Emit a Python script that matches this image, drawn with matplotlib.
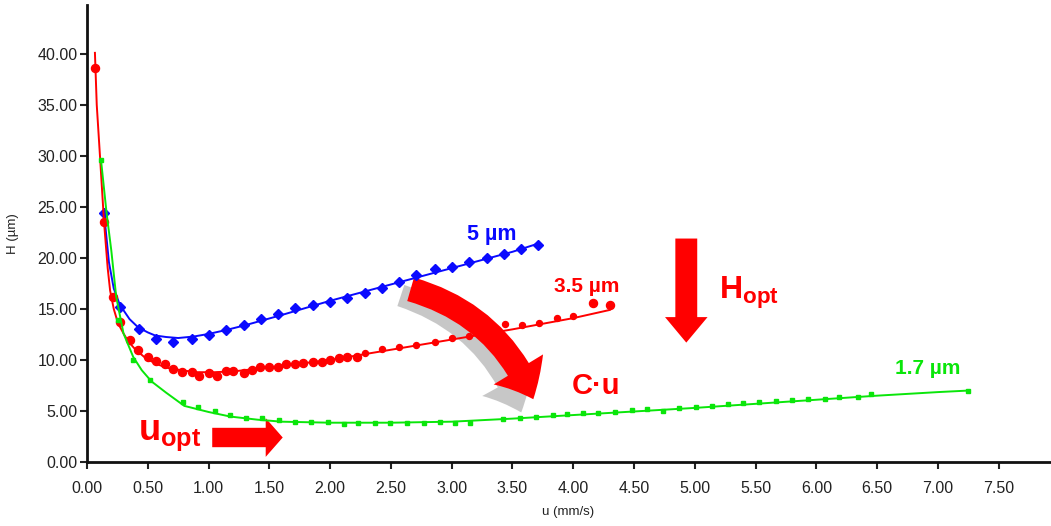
import numpy as np
import matplotlib
matplotlib.use("Agg")
import matplotlib.pyplot as plt
from matplotlib.patches import FancyArrowPatch, FancyArrow

plt.rcParams['font.family'] = ['Liberation Sans', 'DejaVu Sans']
plt.rcParams['mathtext.fontset'] = 'custom'
plt.rcParams['mathtext.rm'] = 'Liberation Sans'
plt.rcParams['mathtext.bf'] = 'Liberation Sans:bold'

# 5 um particles (blue diamonds)
u_5 = [0.14, 0.27, 0.43, 0.57, 0.71, 0.86, 1.00, 1.14, 1.29, 1.43, 1.57, 1.71, 1.86,
       2.00, 2.14, 2.29, 2.43, 2.57, 2.71, 2.86, 3.00, 3.14, 3.29, 3.43, 3.57, 3.71]
h_5 = [24.4, 15.2, 13.0, 12.05, 11.8, 12.1, 12.45, 12.9, 13.4, 14.0, 14.5, 15.1, 15.4,
       15.7, 16.1, 16.6, 17.1, 17.6, 18.3, 18.9, 19.1, 19.6, 20.0, 20.4, 20.9, 21.3]
fit_u_5 = [0.14, 0.18, 0.22, 0.27, 0.35, 0.42, 0.50, 0.56, 0.65, 0.75, 0.88, 1.00,
           1.15, 1.30, 1.60, 2.00, 2.50, 3.00, 3.50, 3.71]
fit_h_5 = [24.4, 19.6, 17.0, 15.4, 14.0, 13.2, 12.7, 12.4, 12.25, 12.15, 12.3, 12.55,
           12.95, 13.4, 14.4, 15.8, 17.4, 19.0, 20.6, 21.4]

# 3.5 um particles (red circles)
u_35 = [0.066, 0.14, 0.21, 0.27, 0.35, 0.42, 0.50, 0.57, 0.64, 0.71, 0.78, 0.86, 0.92,
        1.00, 1.07, 1.14, 1.20, 1.29, 1.36, 1.42, 1.50, 1.57, 1.64, 1.71, 1.78, 1.86,
        1.93, 2.00, 2.07, 2.14, 2.22, 2.29, 2.43, 2.57, 2.71, 2.86, 3.00, 3.14, 3.44,
        3.58, 3.72, 3.87, 4.00, 4.16, 4.30]
h_35 = [38.6, 23.5, 16.2, 13.7, 12.0, 11.0, 10.3, 9.9, 9.6, 9.1, 8.85, 8.85, 8.4,
        8.7, 8.4, 8.9, 8.9, 8.7, 9.0, 9.3, 9.3, 9.3, 9.6, 9.6, 9.7, 9.8,
        9.8, 10.0, 10.2, 10.3, 10.3, 10.7, 11.1, 11.3, 11.5, 11.8, 12.2, 12.3, 13.5,
        13.4, 13.6, 14.1, 14.3, 15.6, 15.4]
fit_u_35 = [0.065, 0.08, 0.107, 0.14, 0.17, 0.19, 0.22, 0.255, 0.30, 0.34, 0.40, 0.48,
            0.57, 0.67, 0.80, 0.91, 1.05, 1.22, 1.52, 2.00, 2.50, 3.00, 3.50, 4.00, 4.30]
fit_h_35 = [40.1, 35.0, 29.9, 23.5, 19.0, 16.8, 15.0, 13.6, 12.6, 11.8, 11.0, 10.2,
            9.6, 9.2, 8.95, 8.8, 8.8, 8.9, 9.3, 10.0, 11.0, 12.0, 13.0, 14.1, 14.9]

# 1.7 um particles (green squares)
u_17 = [0.115, 0.255, 0.38, 0.52, 0.79, 0.91, 1.05, 1.18, 1.31, 1.44, 1.58, 1.71, 1.84,
        1.98, 2.11, 2.23, 2.37, 2.49, 2.63, 2.77, 2.90, 3.03, 3.15, 3.42, 3.56, 3.69,
        3.83, 3.95, 4.08, 4.20, 4.34, 4.48, 4.61, 4.74, 4.87, 5.01, 5.14, 5.27, 5.40,
        5.53, 5.67, 5.80, 5.93, 6.07, 6.19, 6.34, 6.45, 7.25]
h_17 = [29.6, 13.9, 10.0, 8.0, 5.9, 5.4, 5.0, 4.6, 4.3, 4.3, 4.1, 3.9, 3.9,
        3.9, 3.7, 3.8, 3.8, 3.8, 3.8, 3.8, 3.9, 3.8, 3.8, 4.2, 4.3, 4.4,
        4.6, 4.7, 4.8, 4.8, 4.9, 5.05, 5.2, 5.0, 5.3, 5.4, 5.5, 5.7, 5.8,
        5.85, 6.0, 6.1, 6.2, 6.2, 6.4, 6.4, 6.7, 6.96]
fit_u_17 = [0.115, 0.16, 0.20, 0.24, 0.30, 0.38, 0.45, 0.53, 0.65, 0.80, 1.00, 1.18,
            1.40, 1.60, 2.00, 2.50, 3.00, 3.50, 4.00, 4.50, 5.00, 5.50, 6.00, 6.50,
            7.00, 7.25]
fit_h_17 = [29.6, 24.5, 20.7, 16.2, 12.6, 10.3, 9.0, 7.9, 6.8, 5.5, 4.9, 4.45,
            4.15, 3.95, 3.85, 3.85, 3.95, 4.25, 4.6, 4.95, 5.3, 5.7, 6.1, 6.5,
            6.85, 7.0]

x_ticks = np.arange(0, 7.51, 0.5)
y_ticks = np.arange(0, 40.01, 5)

blue = '#0a0aff'
red = '#ff0000'
green = '#0ae60a'

fig = plt.figure(figsize=(10.51, 5.26), dpi=100)
ax = fig.add_axes([0.0828, 0.1217, 0.916, 0.869])

ax.plot(fit_u_5, fit_h_5, color=blue, lw=1.4)
ax.plot(u_5, h_5, 'D', color=blue, ms=5.2, mec=blue)
ax.plot(fit_u_35, fit_h_35, color=red, lw=1.4)
# the red points get smaller on the right part of the curve
u35 = np.array(u_35)
h35 = np.array(h_35)
big = (u35 < 2.25) | (u35 > 4.1)
ax.plot(u35[big], h35[big], 'o', color=red, ms=5.8, mec=red)
ax.plot(u35[~big], h35[~big], 'o', color=red, ms=4.3, mec=red)
ax.plot(fit_u_17, fit_h_17, color=green, lw=1.4)
ax.plot(u_17, h_17, 's', color=green, ms=3.4, mec=green)

ax.set_xlim(0, 7.92)
ax.set_ylim(0, 44.8)
ax.set_xticks(x_ticks)
ax.set_xticklabels(['%.2f' % v for v in x_ticks])
ax.set_yticks(y_ticks)
ax.set_yticklabels(['%.2f' % v for v in y_ticks])
ax.tick_params(labelsize=11.5, length=5, width=1.5, color='#222222', labelcolor='#222222')
ax.tick_params(axis='x', pad=9)
ax.tick_params(axis='y', pad=2)
for s in ['top', 'right']:
    ax.spines[s].set_visible(False)
for s in ['left', 'bottom']:
    ax.spines[s].set_linewidth(2)
    ax.spines[s].set_color('#111111')

ax.set_xlabel('u (mm/s)', fontsize=9.5, color='#222222', labelpad=7)
ax.set_ylabel('H (µm)', fontsize=9.5, color='#222222', labelpad=13)

# labels of the curves
ax.text(3.33, 22.3, '5 µm', color=blue, fontsize=15.5, fontweight='bold', ha='center', va='center')
ax.text(4.11, 17.2, '3.5 µm', color=red, fontsize=15, fontweight='bold', ha='center', va='center')
ax.text(6.92, 9.2, '1.7 µm', color=green, fontsize=15, fontweight='bold', ha='center', va='center')

# annotations
ax.text(0.42, 2.6, r'$\mathbf{u}_{\mathbf{opt}}$', color=red, fontsize=26, ha='left', va='center')
ax.add_patch(FancyArrow(1.03, 2.4, 0.58, 0, width=1.9, head_width=3.8, head_length=0.14,
                        length_includes_head=True, color=red, lw=0))
ax.text(5.2, 16.6, r'$\mathbf{H}_{\mathbf{opt}}$', color=red, fontsize=23, ha='left', va='center')
ax.add_patch(FancyArrow(4.93, 21.9, 0, -10.2, width=0.18, head_width=0.35, head_length=2.5,
                        length_includes_head=True, color=red, lw=0))
ax.text(4.19, 7.4, 'C·u', color=red, fontsize=21, fontweight='bold', ha='center', va='center')

shadow = FancyArrowPatch((2.56, 16.4), (3.58, 4.6), connectionstyle='arc3,rad=-0.25',
                         arrowstyle='simple,head_width=26,head_length=15,tail_width=10',
                         color='#9a9a9a', alpha=0.55, lw=0, mutation_scale=1.6)
ax.add_patch(shadow)
cu_arrow = FancyArrowPatch((2.64, 17.0), (3.68, 5.9), connectionstyle='arc3,rad=-0.25',
                           arrowstyle='simple,head_width=26,head_length=15,tail_width=11',
                           color=red, lw=0, mutation_scale=1.6)
ax.add_patch(cu_arrow)

fig.savefig('out.png', dpi=100)
